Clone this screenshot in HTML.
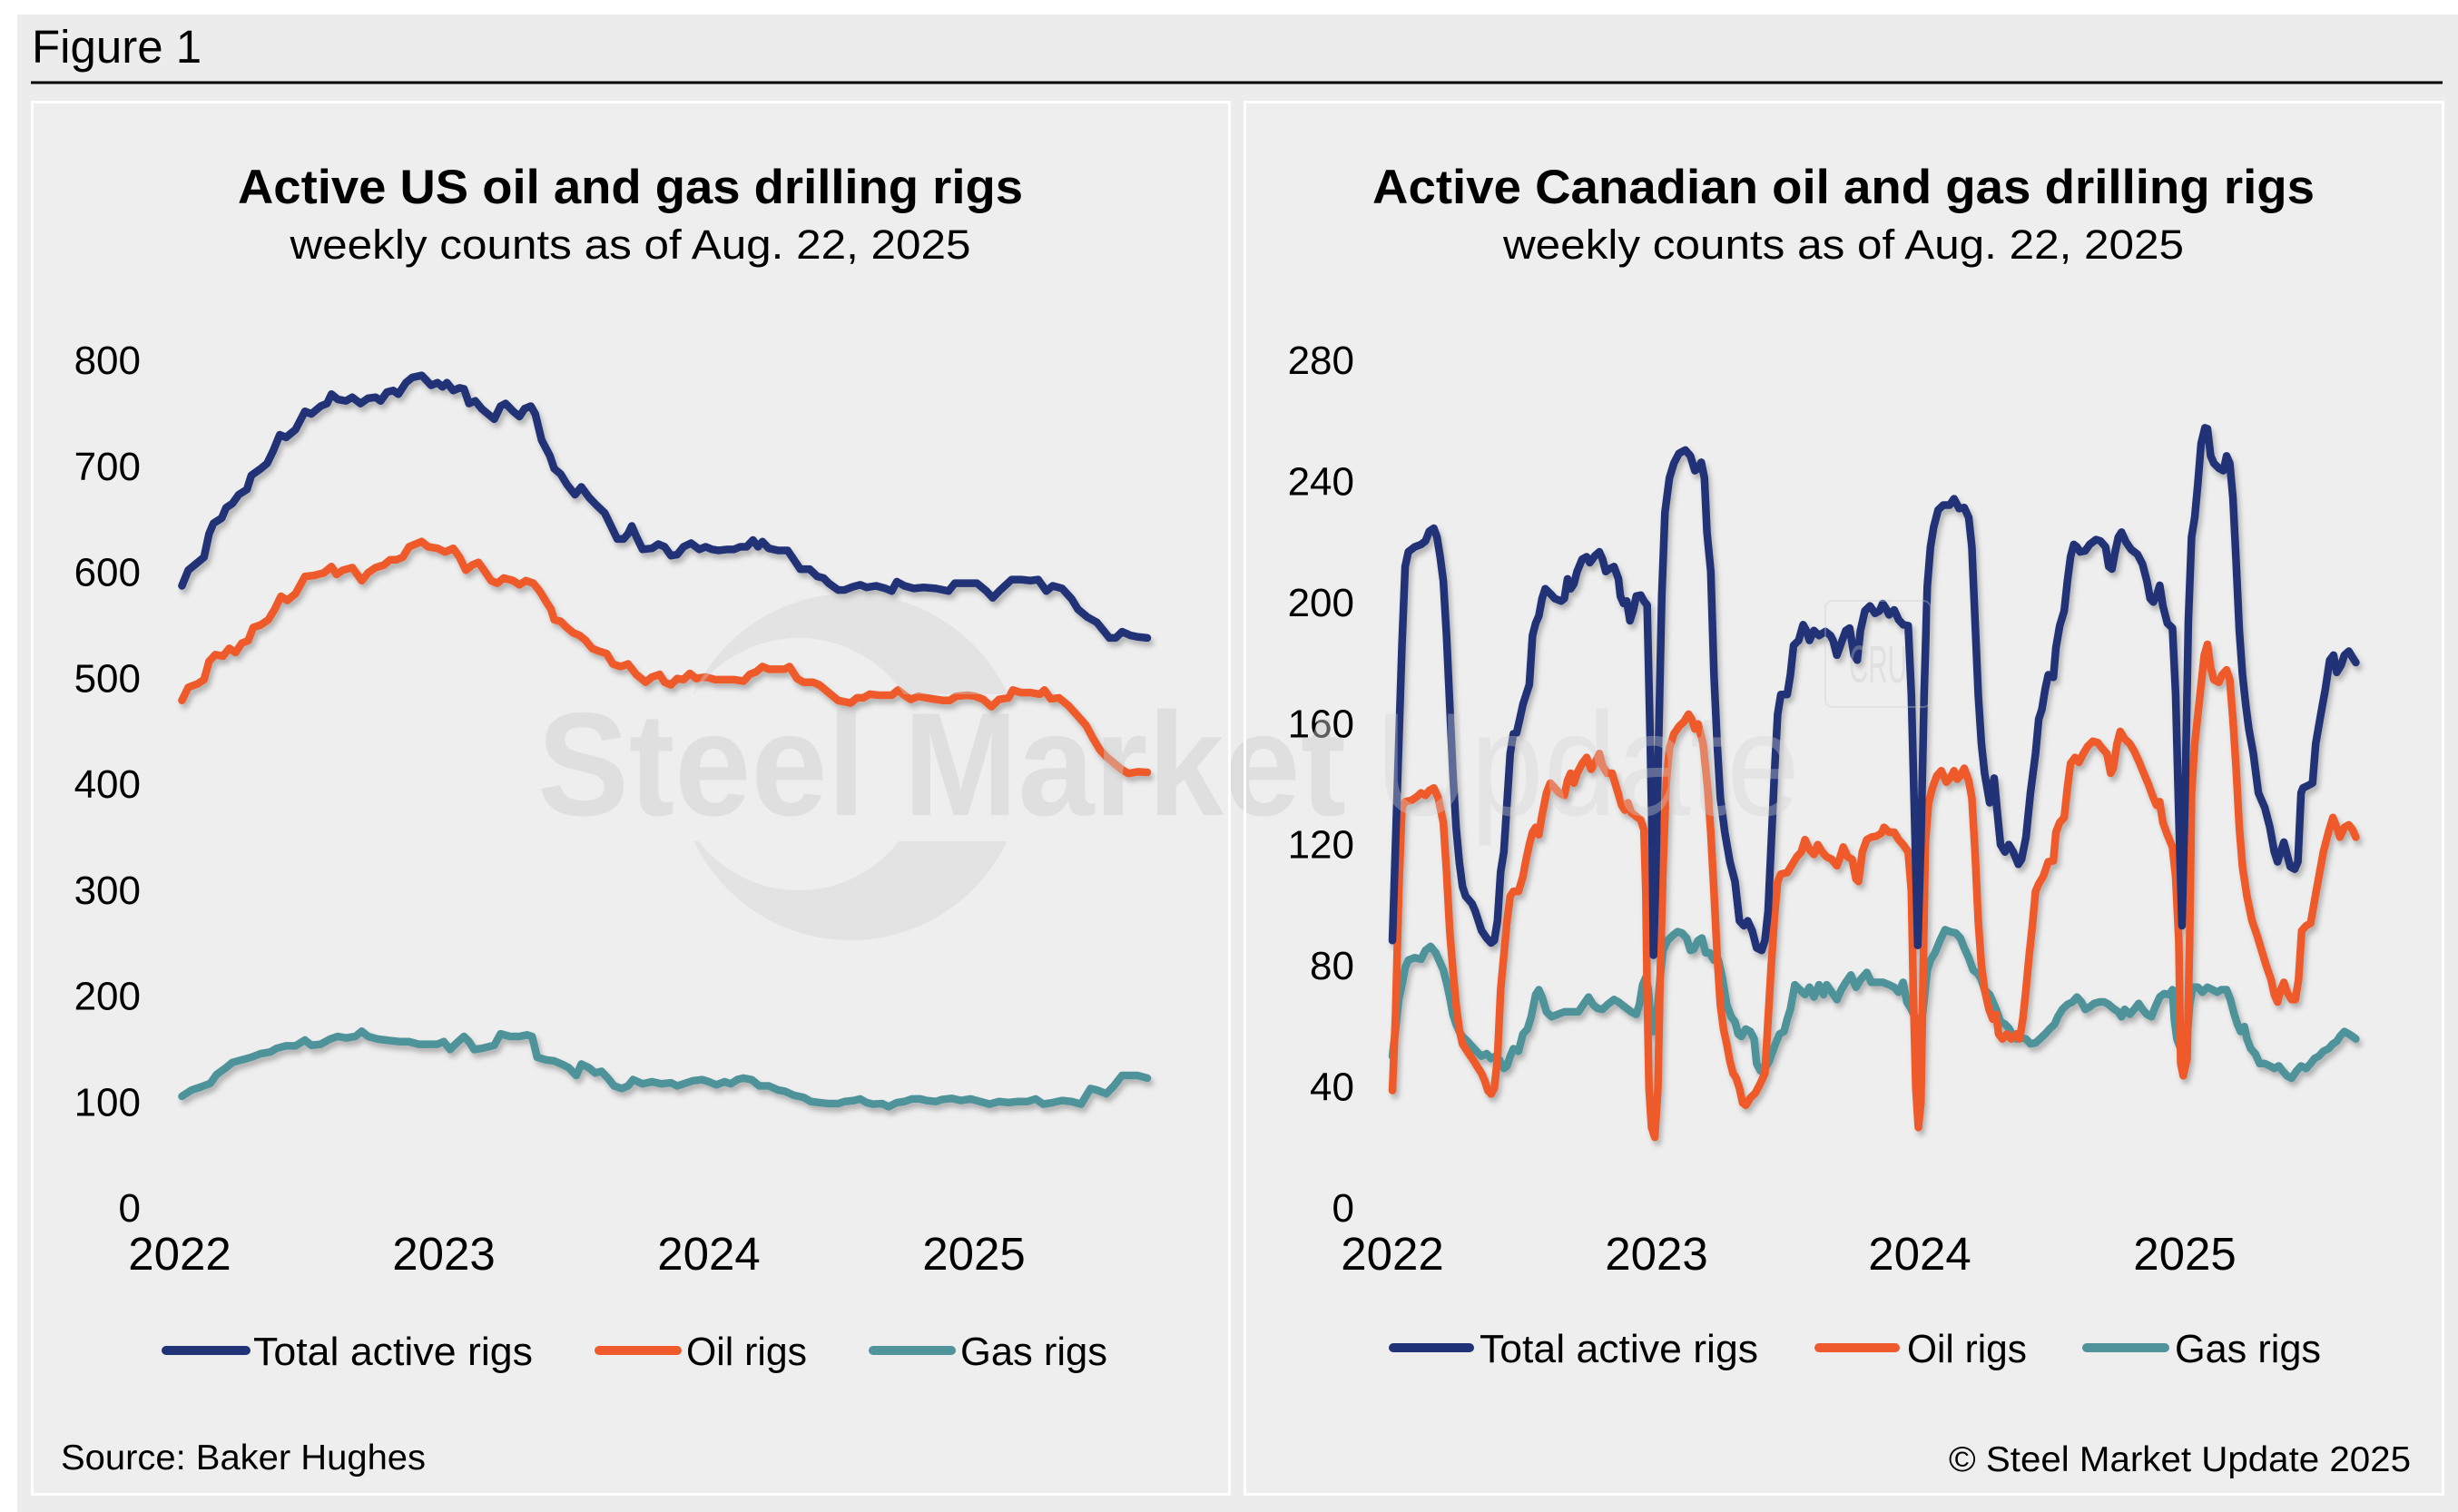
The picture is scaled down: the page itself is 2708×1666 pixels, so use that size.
<!DOCTYPE html>
<html>
<head>
<meta charset="utf-8">
<style>
  html,body{margin:0;padding:0;background:#ffffff;}
  svg{display:block;}
  text{font-family:"Liberation Sans",Arial,Helvetica,sans-serif;}
</style>
</head>
<body>
<svg width="2708" height="1666" viewBox="0 0 2708 1666" xmlns="http://www.w3.org/2000/svg">
  <defs>
    <filter id="sh" x="-5%" y="-10%" width="110%" height="125%">
      <feDropShadow dx="3" dy="5" stdDeviation="3" flood-color="#000" flood-opacity="0.25"/>
    </filter>
    <mask id="cres">
      <rect x="0" y="0" width="2708" height="1666" fill="black"/>
      <circle cx="937" cy="845" r="191" fill="white"/>
      <circle cx="880" cy="842" r="139" fill="black"/>
      <rect x="600" y="765" width="700" height="162" fill="black"/>
    </mask>
  </defs>

  <!-- backgrounds -->
  <rect x="0" y="0" width="2708" height="1666" fill="#ffffff"/>
  <rect x="19" y="16" width="2689" height="1650" fill="#ececec"/>

  <!-- header -->
  <text x="35" y="69" font-size="51" fill="#000">Figure 1</text>
  <rect x="34" y="89.5" width="2657" height="3" fill="#000"/>

  <!-- panels -->
  <rect x="35.5" y="112.5" width="1319" height="1534" fill="#eeeeee"/>
  <rect x="1371.5" y="112.5" width="1320" height="1534" fill="#eeeeee"/>

  <!-- titles -->
  <text x="694.5" y="224" font-size="53" font-weight="bold" text-anchor="middle" textLength="865" lengthAdjust="spacingAndGlyphs" fill="#000">Active US oil and gas drilling rigs</text>
  <text x="694.5" y="285" font-size="45" text-anchor="middle" textLength="750" lengthAdjust="spacingAndGlyphs" fill="#000">weekly counts as of Aug. 22, 2025</text>
  <text x="2031" y="224" font-size="53" font-weight="bold" text-anchor="middle" textLength="1038" lengthAdjust="spacingAndGlyphs" fill="#000">Active Canadian oil and gas drilling rigs</text>
  <text x="2031" y="285" font-size="45" text-anchor="middle" textLength="750" lengthAdjust="spacingAndGlyphs" fill="#000">weekly counts as of Aug. 22, 2025</text>

  <!-- left y labels -->
  <g font-size="44" text-anchor="end" fill="#000">
    <text x="155" y="412">800</text>
    <text x="155" y="528.75">700</text>
    <text x="155" y="645.5">600</text>
    <text x="155" y="762.25">500</text>
    <text x="155" y="879">400</text>
    <text x="155" y="995.75">300</text>
    <text x="155" y="1112.5">200</text>
    <text x="155" y="1229.25">100</text>
    <text x="155" y="1346">0</text>
  </g>
  <!-- right y labels -->
  <g font-size="44" text-anchor="end" fill="#000">
    <text x="1492" y="412">280</text>
    <text x="1492" y="545.4">240</text>
    <text x="1492" y="678.9">200</text>
    <text x="1492" y="812.3">160</text>
    <text x="1492" y="945.7">120</text>
    <text x="1492" y="1079.1">80</text>
    <text x="1492" y="1212.6">40</text>
    <text x="1492" y="1346">0</text>
  </g>
  <!-- x labels -->
  <g font-size="51" text-anchor="middle" fill="#000">
    <text x="198" y="1399">2022</text>
    <text x="489" y="1399">2023</text>
    <text x="781" y="1399">2024</text>
    <text x="1073" y="1399">2025</text>
    <text x="1534" y="1399">2022</text>
    <text x="1825" y="1399">2023</text>
    <text x="2115" y="1399">2024</text>
    <text x="2407" y="1399">2025</text>
  </g>

  <!-- legends -->
  <g stroke-width="10" stroke-linecap="round">
    <line x1="183" y1="1488" x2="271" y2="1488" stroke="#213377"/>
    <line x1="660" y1="1488" x2="746" y2="1488" stroke="#ee5a2b"/>
    <line x1="962" y1="1488" x2="1048" y2="1488" stroke="#50939a"/>
    <line x1="1535" y1="1485" x2="1619" y2="1485" stroke="#213377"/>
    <line x1="2004" y1="1485" x2="2088" y2="1485" stroke="#ee5a2b"/>
    <line x1="2299" y1="1485" x2="2385" y2="1485" stroke="#50939a"/>
  </g>
  <g font-size="44" fill="#000">
    <text x="279" y="1504" textLength="308" lengthAdjust="spacingAndGlyphs">Total active rigs</text>
    <text x="756" y="1504" textLength="133" lengthAdjust="spacingAndGlyphs">Oil rigs</text>
    <text x="1058" y="1504" textLength="162" lengthAdjust="spacingAndGlyphs">Gas rigs</text>
    <text x="1630" y="1501" textLength="307" lengthAdjust="spacingAndGlyphs">Total active rigs</text>
    <text x="2101" y="1501" textLength="132" lengthAdjust="spacingAndGlyphs">Oil rigs</text>
    <text x="2396" y="1501" textLength="161" lengthAdjust="spacingAndGlyphs">Gas rigs</text>
  </g>

  <!-- footer -->
  <text x="67" y="1619" font-size="39" fill="#000" textLength="402" lengthAdjust="spacingAndGlyphs">Source: Baker Hughes</text>
  <text x="2656" y="1621" font-size="39" fill="#000" text-anchor="end" textLength="509" lengthAdjust="spacingAndGlyphs">© Steel Market Update 2025</text>

  <!-- LEFT CHART LINES -->
  <g filter="url(#sh)">
    <g transform="translate(190,370) scale(0.69515,0.57398)" fill="none" stroke-width="8.5" stroke-linejoin="round" stroke-linecap="round">
      <polyline vector-effect="non-scaling-stroke" stroke="#50939a" points="15,1460 30,1448 45,1442 60,1435 70,1418 85,1405 95,1395 110,1390 125,1385 140,1378 155,1375 165,1368 180,1363 195,1363 210,1352 220,1362 235,1360 250,1350 262,1345 275,1348 290,1345 300,1335 310,1345 325,1350 345,1353 360,1355 375,1355 390,1360 405,1360 420,1360 430,1355 440,1370 450,1358 462,1345 470,1355 478,1370 490,1368 500,1365 510,1362 520,1340 535,1345 550,1345 562,1342 570,1345 578,1385 592,1390 605,1392 620,1400 628,1405 640,1420 648,1398 660,1405 670,1415 680,1412 690,1425 700,1440 712,1445 722,1440 730,1428 745,1436 760,1432 775,1436 790,1434 800,1440 810,1436 825,1430 840,1428 850,1432 862,1438 875,1432 885,1436 895,1428 905,1425 918,1428 930,1440 945,1440 960,1448 970,1450 985,1458 1000,1462 1012,1470 1025,1472 1040,1474 1055,1474 1065,1470 1080,1468 1090,1465 1100,1472 1110,1475 1125,1474 1135,1480 1148,1472 1160,1470 1172,1465 1185,1465 1195,1468 1210,1470 1220,1466 1235,1464 1250,1468 1265,1465 1280,1470 1295,1475 1310,1470 1325,1472 1340,1470 1355,1470 1368,1465 1380,1475 1395,1472 1410,1468 1425,1470 1440,1475 1455,1445 1465,1448 1480,1455 1492,1440 1505,1420 1520,1420 1530,1420 1545,1425"/>
      <polyline vector-effect="non-scaling-stroke" stroke="#ee5a2b" points="15,700 25,675 40,668 50,660 58,625 68,612 80,615 90,600 100,608 110,590 120,585 128,560 140,555 152,545 162,525 172,500 182,508 195,495 210,462 225,460 240,455 252,443 260,458 270,450 285,445 300,470 310,455 322,445 335,440 345,430 355,430 365,425 375,405 385,400 395,395 405,405 420,408 432,415 445,408 455,425 465,450 475,440 485,435 495,452 505,470 515,475 525,465 540,470 550,478 560,470 572,475 582,490 592,510 600,525 605,545 615,548 625,560 635,570 645,575 655,585 665,600 675,605 688,610 698,630 710,635 722,630 735,650 750,665 760,655 772,650 780,665 790,670 800,658 810,660 820,648 830,658 845,655 860,660 875,660 890,660 905,663 915,650 925,645 935,635 945,640 958,640 970,640 978,635 990,658 1000,665 1015,665 1025,670 1040,685 1055,700 1075,705 1085,695 1095,695 1105,688 1120,690 1140,690 1150,680 1160,690 1170,698 1182,692 1195,695 1210,698 1222,700 1232,700 1242,692 1260,690 1272,692 1285,698 1298,712 1310,698 1325,695 1332,680 1345,685 1360,685 1375,688 1382,680 1392,697 1405,695 1420,710 1435,730 1448,748 1460,775 1470,795 1480,808 1492,820 1505,833 1515,840 1530,837 1545,838"/>
      <polyline vector-effect="non-scaling-stroke" stroke="#213377" points="15,480 25,450 40,435 50,425 58,380 65,360 78,350 85,330 95,322 105,305 118,295 125,268 140,255 150,245 160,220 170,190 180,195 195,180 210,145 220,150 235,135 245,130 252,112 262,122 275,125 285,118 298,130 310,120 322,118 330,125 340,108 350,105 358,112 370,90 380,80 395,76 410,95 420,90 428,98 435,90 445,105 455,100 462,102 470,130 480,125 490,140 500,150 510,160 520,135 528,130 540,145 550,155 558,140 568,135 575,150 585,200 598,230 605,255 615,265 625,285 638,305 648,290 660,310 672,325 685,340 695,365 705,390 715,390 722,380 728,365 735,385 745,410 760,408 770,400 780,405 790,422 800,420 810,405 822,398 835,410 845,405 855,410 865,412 880,410 890,410 900,405 910,405 920,392 928,405 935,395 945,408 960,412 975,412 985,430 995,448 1010,448 1022,462 1032,465 1040,475 1055,488 1065,488 1078,482 1090,478 1100,483 1115,480 1130,485 1140,490 1148,472 1160,480 1175,485 1190,483 1210,485 1230,490 1240,475 1260,475 1275,475 1290,490 1300,503 1312,488 1330,468 1345,468 1360,470 1372,468 1385,490 1395,480 1410,485 1425,505 1435,525 1450,540 1465,550 1475,565 1485,580 1495,580 1505,568 1518,575 1530,578 1545,580"/>
    </g>
  </g>

  <!-- RIGHT CHART LINES -->
  <g filter="url(#sh)">
    <g transform="translate(1520,440) scale(0.70153,0.54209)" fill="none" stroke-width="8.5" stroke-linejoin="round" stroke-linecap="round">
      <polyline vector-effect="non-scaling-stroke" stroke="#50939a" points="20,1335 25,1280 30,1220 35,1190 40,1155 45,1140 55,1135 65,1138 72,1120 80,1112 88,1125 95,1145 100,1160 105,1185 110,1215 115,1250 120,1270 125,1285 130,1295 138,1305 145,1315 152,1325 160,1335 168,1330 175,1340 182,1335 188,1342 195,1360 200,1355 205,1335 210,1320 218,1325 225,1290 232,1280 238,1255 245,1210 250,1200 255,1215 262,1245 270,1255 280,1250 290,1245 300,1245 312,1245 320,1230 328,1215 335,1230 342,1238 350,1240 358,1230 368,1220 375,1225 385,1235 395,1245 403,1250 408,1230 413,1190 418,1175 422,1200 425,1250 430,1285 435,1260 440,1180 445,1120 452,1100 460,1090 468,1082 475,1085 482,1095 488,1120 493,1118 500,1100 506,1095 512,1125 518,1125 525,1140 532,1140 538,1175 545,1230 552,1255 558,1265 563,1290 568,1295 575,1280 582,1285 588,1300 592,1350 598,1365 605,1360 612,1345 620,1315 628,1290 635,1285 640,1260 645,1240 652,1190 660,1200 668,1210 675,1195 682,1215 690,1190 697,1210 702,1190 710,1205 718,1220 725,1200 732,1185 740,1170 748,1195 755,1180 765,1165 772,1185 780,1185 790,1185 800,1190 808,1195 815,1205 822,1185 828,1225 835,1240 842,1260 848,1280 853,1245 860,1160 865,1140 872,1125 880,1100 888,1078 895,1082 905,1085 912,1095 918,1115 925,1135 932,1160 940,1168 945,1180 950,1200 958,1210 963,1225 968,1240 975,1265 982,1270 988,1278 995,1295 1000,1300 1008,1298 1015,1300 1022,1310 1030,1308 1037,1300 1045,1290 1052,1280 1060,1270 1065,1255 1072,1240 1080,1230 1088,1225 1095,1215 1102,1225 1108,1240 1115,1235 1122,1228 1130,1225 1138,1225 1145,1230 1152,1238 1160,1245 1165,1255 1170,1240 1178,1250 1185,1240 1192,1228 1198,1240 1205,1250 1212,1255 1218,1235 1225,1215 1232,1208 1240,1210 1245,1200 1248,1260 1252,1300 1258,1320 1262,1335 1268,1300 1272,1230 1277,1195 1285,1195 1292,1205 1300,1195 1308,1200 1315,1205 1322,1200 1330,1200 1336,1220 1342,1250 1347,1270 1352,1285 1358,1275 1362,1300 1368,1320 1375,1330 1382,1350 1390,1350 1398,1355 1405,1360 1412,1355 1418,1365 1425,1375 1432,1380 1440,1365 1447,1355 1455,1360 1462,1350 1468,1340 1475,1335 1482,1325 1490,1320 1497,1310 1503,1305 1508,1295 1515,1285 1522,1290 1528,1295 1533,1300"/>
      <polyline vector-effect="non-scaling-stroke" stroke="#ee5a2b" points="20,1405 25,1250 30,1000 35,830 40,818 50,815 58,808 65,800 72,805 78,795 85,790 92,810 100,860 105,960 110,1080 115,1160 120,1230 125,1280 130,1310 135,1320 140,1330 148,1345 155,1360 160,1370 165,1385 170,1405 175,1412 180,1400 185,1340 190,1200 195,1130 200,1060 205,1010 210,1000 218,1000 225,970 230,935 235,905 240,880 245,870 250,885 255,845 262,800 268,780 275,790 282,800 290,805 295,775 300,760 305,780 310,760 318,740 325,728 332,752 338,740 345,720 350,745 357,760 365,760 372,790 380,825 385,835 390,820 395,840 400,845 410,855 415,875 418,1000 420,1200 423,1400 427,1480 432,1500 437,1400 440,1200 445,950 450,780 455,710 462,680 470,665 478,655 485,640 490,650 495,670 500,660 508,700 515,790 520,880 525,1000 530,1130 535,1230 540,1280 545,1310 550,1345 555,1370 560,1380 565,1400 570,1430 575,1435 582,1420 590,1410 598,1390 605,1370 610,1260 615,1150 620,1050 625,980 630,965 640,962 648,945 655,930 662,920 668,895 675,915 682,925 688,905 695,920 702,930 710,935 718,948 722,935 728,910 735,930 742,935 748,975 752,980 758,920 765,895 772,890 780,888 788,882 792,870 800,880 808,880 815,895 822,905 830,920 835,1000 838,1200 842,1400 846,1480 850,1430 853,1200 857,900 862,820 868,790 875,765 882,755 890,778 897,768 902,755 907,772 912,765 918,750 925,775 930,810 935,920 940,1060 945,1150 950,1200 957,1240 963,1260 968,1250 972,1290 978,1300 985,1290 992,1300 1000,1290 1005,1300 1010,1260 1015,1200 1020,1130 1025,1070 1030,1000 1035,985 1042,970 1050,940 1058,938 1062,880 1068,860 1075,850 1080,790 1085,740 1092,728 1098,738 1105,720 1112,705 1120,695 1128,698 1135,710 1142,720 1148,760 1152,750 1158,700 1163,675 1170,690 1178,700 1185,715 1192,735 1200,760 1208,785 1215,810 1220,825 1225,818 1230,860 1237,885 1245,910 1250,970 1255,1100 1258,1350 1262,1375 1268,1340 1272,1100 1275,800 1280,700 1285,640 1290,580 1295,520 1300,498 1305,545 1310,570 1318,575 1323,560 1330,550 1335,570 1340,650 1345,750 1350,870 1355,950 1362,1010 1370,1060 1378,1090 1385,1120 1392,1150 1400,1180 1405,1210 1410,1225 1415,1200 1420,1185 1425,1205 1432,1220 1438,1220 1443,1180 1448,1080 1455,1070 1462,1065 1468,1020 1475,970 1482,920 1490,880 1497,850 1503,870 1508,890 1515,870 1522,865 1528,875 1533,890"/>
      <polyline vector-effect="non-scaling-stroke" stroke="#213377" points="20,1100 25,900 30,700 35,500 40,340 45,310 55,300 65,295 72,288 78,268 85,262 90,280 95,320 100,370 105,480 110,620 115,760 120,870 125,940 130,990 135,1010 145,1025 150,1040 155,1060 160,1080 168,1095 175,1105 180,1100 185,1060 190,960 195,920 200,820 205,720 210,680 215,678 220,650 225,620 230,600 235,580 240,480 245,455 250,440 255,405 260,385 268,395 275,405 285,410 290,405 295,365 300,385 305,375 310,350 318,325 325,320 330,332 338,318 345,310 350,325 355,350 360,345 368,340 375,365 378,400 383,415 388,410 393,450 398,430 403,400 410,398 415,410 420,418 425,700 428,900 430,1130 433,1000 438,700 443,400 448,230 455,160 462,130 470,110 480,103 488,115 495,145 500,140 505,128 510,160 514,270 520,350 525,560 530,700 535,810 542,880 550,940 558,980 565,1060 572,1070 578,1060 585,1080 592,1115 600,1120 605,1100 610,1040 615,900 620,760 625,640 630,600 640,600 645,560 650,500 658,490 665,458 670,470 675,490 682,470 690,480 700,472 708,480 712,490 718,520 725,495 732,470 738,465 745,520 750,530 755,470 762,430 770,420 778,435 785,430 790,415 795,425 800,438 808,428 815,448 822,458 830,460 835,600 840,850 845,1110 850,900 855,600 860,380 865,300 870,260 877,225 885,215 895,215 902,202 910,222 918,220 925,240 930,300 935,450 940,600 945,700 950,760 958,820 965,770 970,840 975,905 982,920 988,905 995,920 1003,945 1008,935 1015,890 1022,800 1030,720 1035,650 1040,630 1045,590 1050,560 1058,565 1062,505 1068,460 1075,430 1080,370 1085,320 1090,295 1095,300 1100,310 1108,308 1115,295 1125,285 1132,288 1140,300 1145,340 1150,345 1155,310 1160,280 1165,270 1172,290 1180,305 1190,315 1198,335 1205,370 1210,405 1215,412 1220,400 1225,378 1230,420 1237,455 1245,465 1250,600 1255,850 1260,1070 1265,800 1270,450 1275,280 1280,240 1285,170 1290,90 1296,58 1300,60 1305,115 1310,130 1318,140 1325,145 1330,115 1335,130 1340,200 1345,330 1350,470 1355,560 1360,620 1365,670 1372,720 1380,800 1390,830 1398,870 1405,920 1410,940 1415,920 1420,900 1425,925 1430,950 1437,955 1442,940 1447,800 1450,790 1458,785 1465,780 1470,700 1478,640 1485,590 1492,530 1498,520 1503,555 1510,540 1515,520 1522,512 1528,525 1533,535"/>
    </g>
  </g>

  <!-- watermark (semi-transparent overlay) -->
  <g opacity="0.38">
    <rect x="0" y="0" width="2708" height="1666" fill="#d2d2d2" mask="url(#cres)"/>
  </g>
  <g opacity="0.45">
    <text x="592" y="898" font-size="162" font-weight="bold" fill="#cdcdcd" textLength="891" lengthAdjust="spacingAndGlyphs">Steel Market</text>
  </g>
  <g opacity="0.35">
    <text x="1515" y="898" font-size="162" fill="#d4d4d4" textLength="468" lengthAdjust="spacingAndGlyphs">Update</text>
  </g>
  <!-- CRU badge -->
  <g opacity="0.35">
    <rect x="2011" y="662" width="116" height="117" rx="8" fill="none" stroke="#cccccc" stroke-width="2"/>
    <text x="2069" y="752" font-size="58" text-anchor="middle" fill="#c8c8c8" textLength="64" lengthAdjust="spacingAndGlyphs">CRU</text>
  </g>

  <!-- panel borders on top -->
  <rect x="35.5" y="112.5" width="1319" height="1534" fill="none" stroke="#ffffff" stroke-width="3"/>
  <rect x="1371.5" y="112.5" width="1320" height="1534" fill="none" stroke="#ffffff" stroke-width="3"/>
</svg>
</body>
</html>
